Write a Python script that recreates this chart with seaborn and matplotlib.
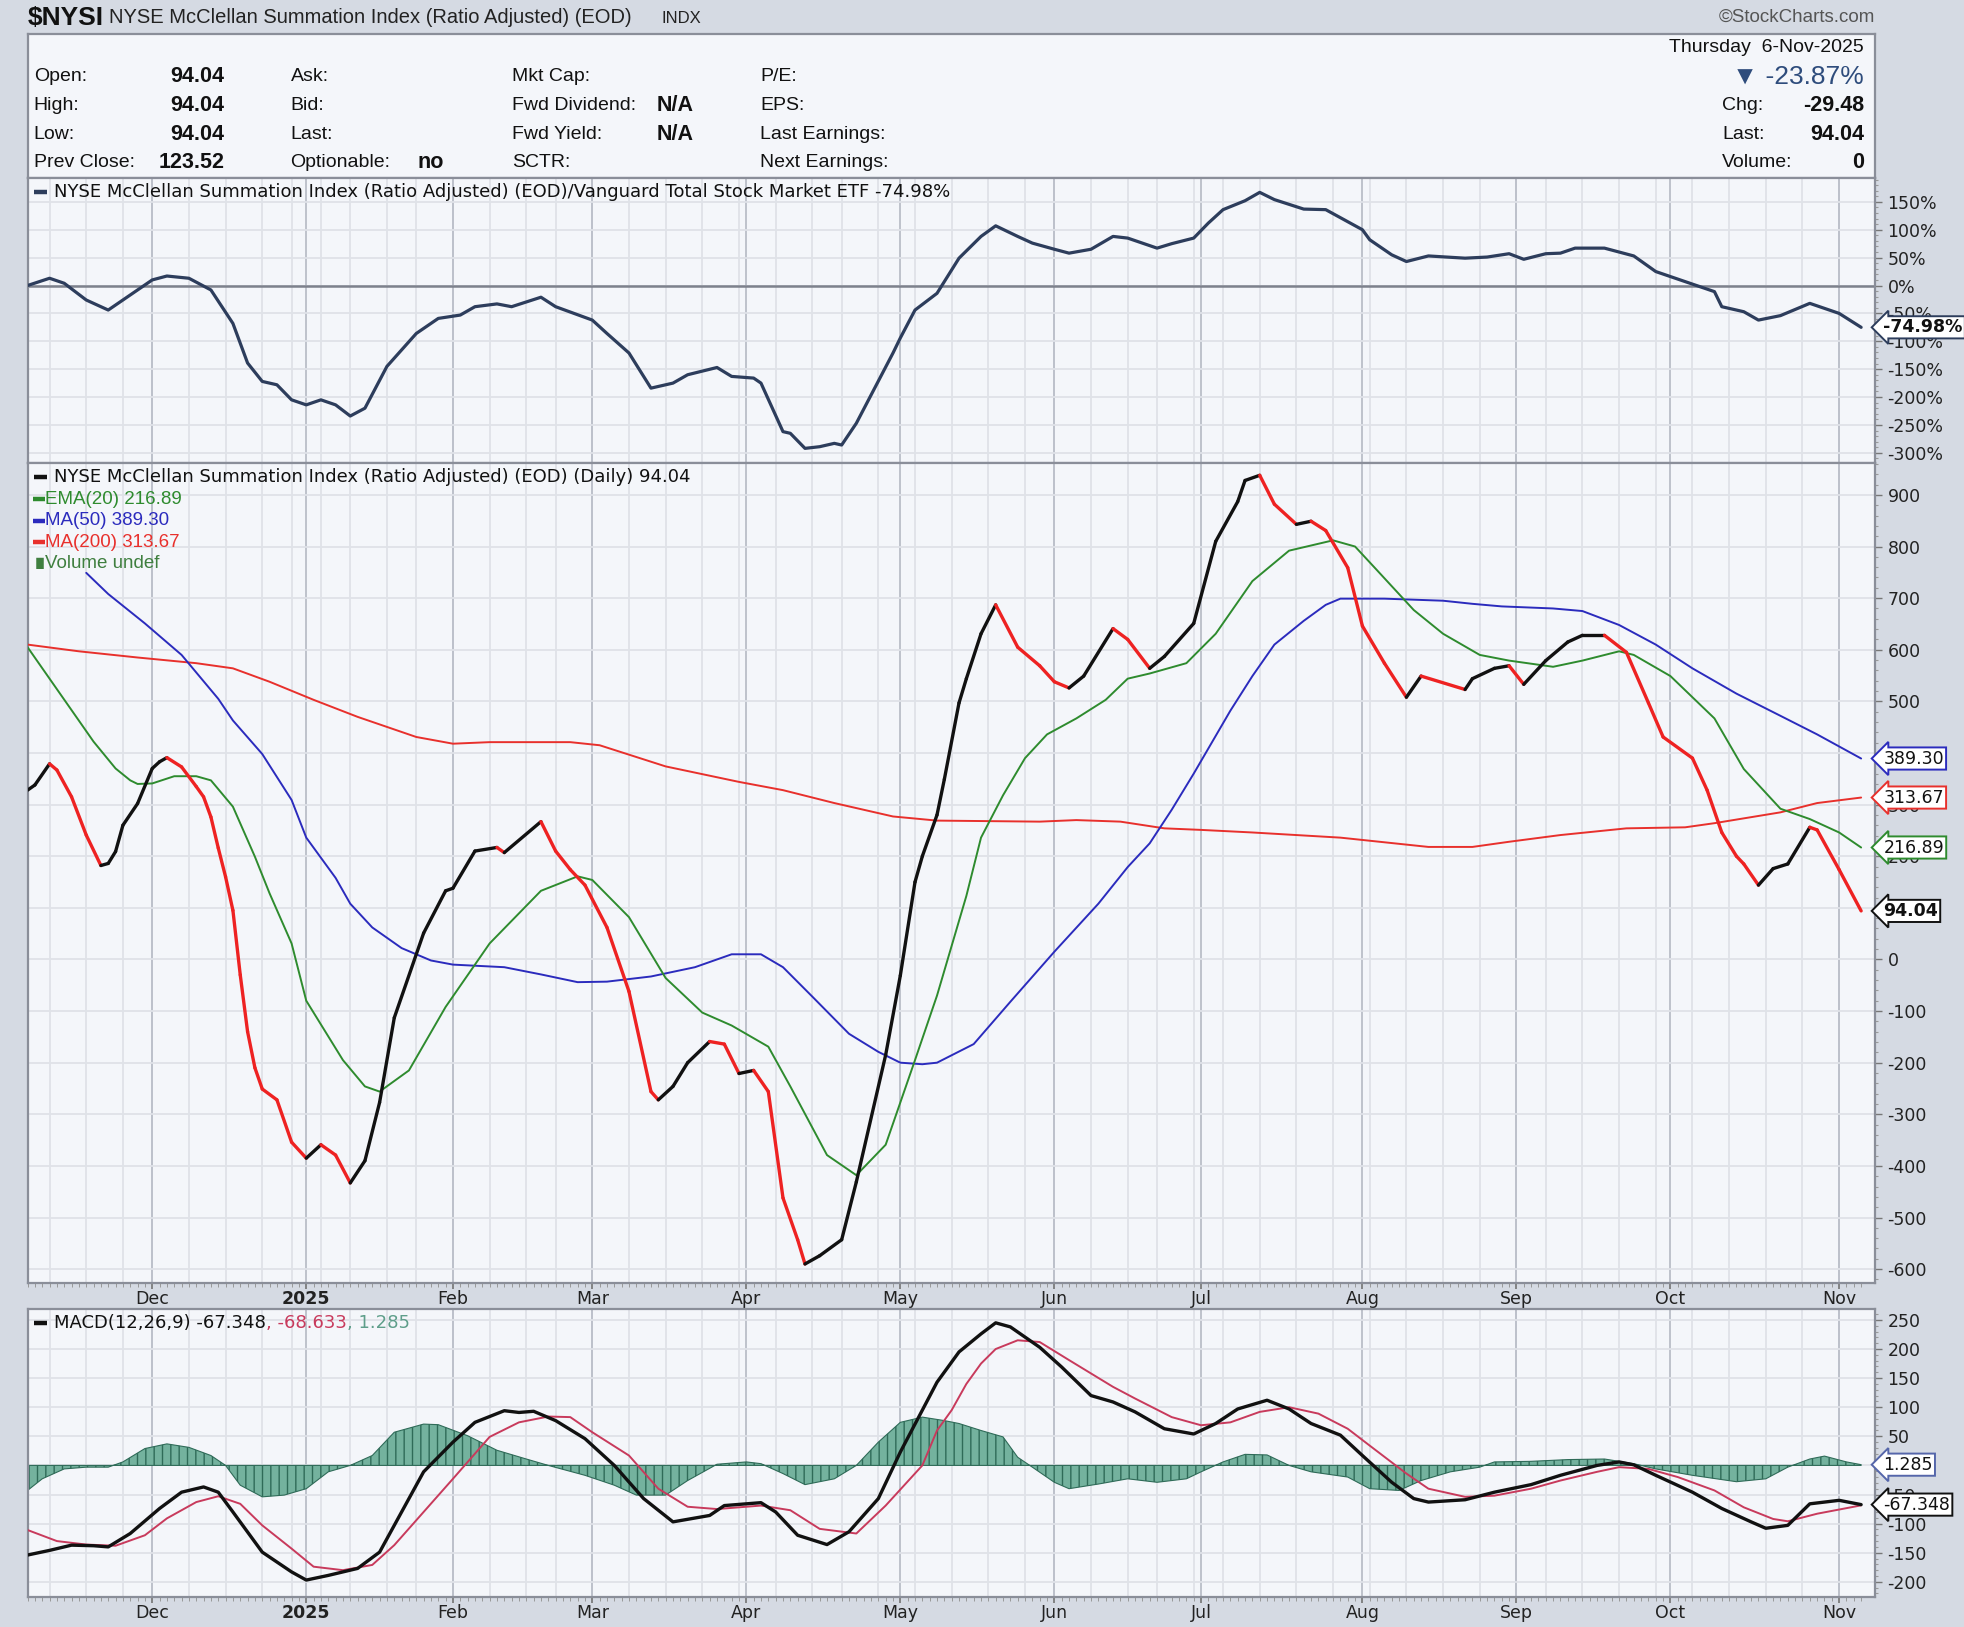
import numpy as np
import pandas as pd
import matplotlib.pyplot as plt
import seaborn as sns
from matplotlib.collections import LineCollection
import matplotlib.ticker as mticker

sns.set_theme(style="white")
plt.rcParams['font.family'] = ['DejaVu Sans']
plt.rcParams['hatch.linewidth'] = 1.0
NARROW = ['Liberation Sans Narrow', 'Liberation Sans', 'DejaVu Sans']

# NYSE trading calendar for the chart window
holidays = ['2024-11-28', '2024-12-25', '2025-01-01', '2025-01-09', '2025-01-20', '2025-02-17',
            '2025-04-18', '2025-05-26', '2025-06-19', '2025-07-04', '2025-09-01']
month_labels = ['Dec', '2025', 'Feb', 'Mar', 'Apr', 'May', 'Jun', 'Jul', 'Aug', 'Sep', 'Oct', 'Nov']

# --- $NYSI (daily) ---
nysi_dates = ['2024-11-06', '2024-11-07', '2024-11-11', '2024-11-12', '2024-11-14', '2024-11-18', '2024-11-20',
              '2024-11-21', '2024-11-22', '2024-11-25', '2024-11-27',
              '2024-12-02', '2024-12-03', '2024-12-04', '2024-12-06', '2024-12-10', '2024-12-11', '2024-12-12', '2024-12-13',
              '2024-12-16', '2024-12-17', '2024-12-18', '2024-12-19', '2024-12-20', '2024-12-23', '2024-12-26', '2024-12-30',
              '2025-01-02', '2025-01-06', '2025-01-08', '2025-01-13', '2025-01-15', '2025-01-17', '2025-01-22', '2025-01-28', '2025-01-31',
              '2025-02-03', '2025-02-06', '2025-02-11', '2025-02-12', '2025-02-20', '2025-02-24', '2025-02-26', '2025-02-28',
              '2025-03-05', '2025-03-10', '2025-03-13', '2025-03-14', '2025-03-18', '2025-03-20', '2025-03-25', '2025-03-27', '2025-03-31',
              '2025-04-02', '2025-04-04', '2025-04-08', '2025-04-10', '2025-04-11', '2025-04-15', '2025-04-21', '2025-04-23', '2025-04-29',
              '2025-05-01', '2025-05-05', '2025-05-06', '2025-05-08', '2025-05-09', '2025-05-13', '2025-05-14', '2025-05-16', '2025-05-20', '2025-05-23', '2025-05-29',
              '2025-06-02', '2025-06-04', '2025-06-06', '2025-06-12', '2025-06-16', '2025-06-20', '2025-06-24', '2025-06-30',
              '2025-07-03', '2025-07-09', '2025-07-10', '2025-07-14', '2025-07-16', '2025-07-21', '2025-07-23', '2025-07-25', '2025-07-30',
              '2025-08-01', '2025-08-06', '2025-08-11', '2025-08-13', '2025-08-21', '2025-08-22', '2025-08-27', '2025-08-29',
              '2025-09-03', '2025-09-08', '2025-09-11', '2025-09-15', '2025-09-18', '2025-09-23', '2025-09-26', '2025-09-30',
              '2025-10-06', '2025-10-08', '2025-10-10', '2025-10-14', '2025-10-15', '2025-10-17', '2025-10-21', '2025-10-23', '2025-10-28', '2025-10-29',
              '2025-11-03', '2025-11-06']
nysi = [328, 338, 379, 367, 315, 241, 182,
        186, 209, 260, 302,
        370, 383, 391, 373, 335, 315, 276, 216,
        160, 95, -30, -140, -210, -251, -272, -354,
        -385, -359, -379, -433, -390, -277, -113, 51, 133,
        138, 210, 217, 207, 267, 210, 174, 144,
        62, -62, -256, -272, -246, -200, -159, -164, -221,
        -215, -256, -462, -543, -590, -574, -543, -431, -185,
        -31, 150, 200, 280, 349, 497, 544, 631, 687, 605, 569,
        538, 526, 549, 641, 620, 564, 587, 651,
        810, 887, 928, 938, 882, 843, 849, 831, 759,
        646, 574, 508, 549, 523, 544, 564, 569,
        533, 579, 615, 628, 628, 595, 497, 431,
        390, 328, 246, 200, 185, 144, 176, 185, 256, 251,
        174, 94.04]

ema_dates = ['2024-11-06', '2024-11-11', '2024-11-14', '2024-11-19', '2024-11-22', '2024-11-26', '2024-11-27',
             '2024-12-02', '2024-12-05', '2024-12-10', '2024-12-12', '2024-12-17', '2024-12-20', '2024-12-24', '2024-12-30',
             '2025-01-02', '2025-01-10', '2025-01-15', '2025-01-17', '2025-01-24', '2025-01-31',
             '2025-02-10', '2025-02-20', '2025-02-27',
             '2025-03-03', '2025-03-10', '2025-03-17', '2025-03-24', '2025-03-28',
             '2025-04-04', '2025-04-09', '2025-04-16', '2025-04-23', '2025-04-29',
             '2025-05-05', '2025-05-08', '2025-05-14', '2025-05-16', '2025-05-21', '2025-05-27', '2025-05-30',
             '2025-06-05', '2025-06-11', '2025-06-16', '2025-06-20', '2025-06-27',
             '2025-07-03', '2025-07-11', '2025-07-18', '2025-07-28', '2025-07-31',
             '2025-08-05', '2025-08-12', '2025-08-18', '2025-08-25', '2025-08-29',
             '2025-09-09', '2025-09-15', '2025-09-22', '2025-09-24',
             '2025-10-01', '2025-10-09', '2025-10-15', '2025-10-22', '2025-10-28',
             '2025-11-03', '2025-11-06']
ema20 = [605, 544, 483, 422, 370, 347, 340,
         341, 355, 355, 347, 296, 199, 128, 31,
         -80, -195, -246, -256, -215, -92,
         31, 133, 161,
         154, 82, -36, -103, -128,
         -169, -246, -379, -418, -359,
         -195, -70, 123, 236, 318, 390, 436,
         467, 503, 544, 554, 574,
         631, 733, 792, 812, 800,
         754, 677, 631, 590, 579,
         567, 579, 597, 590,
         549, 467, 369, 292, 272,
         246, 216.89]

ma50_dates = ['2024-11-18', '2024-11-21', '2024-11-29',
              '2024-12-06', '2024-12-13', '2024-12-17', '2024-12-23', '2024-12-30',
              '2025-01-02', '2025-01-08', '2025-01-13', '2025-01-16', '2025-01-23', '2025-01-29',
              '2025-02-03', '2025-02-12', '2025-02-20', '2025-02-27',
              '2025-03-05', '2025-03-13', '2025-03-21', '2025-03-28',
              '2025-04-03', '2025-04-08', '2025-04-14', '2025-04-22', '2025-04-28',
              '2025-05-01', '2025-05-06', '2025-05-08', '2025-05-15', '2025-05-22',
              '2025-06-02', '2025-06-10', '2025-06-16', '2025-06-20', '2025-06-25', '2025-06-30',
              '2025-07-08', '2025-07-11', '2025-07-16', '2025-07-22', '2025-07-25', '2025-07-29',
              '2025-08-06', '2025-08-18', '2025-08-22', '2025-08-28',
              '2025-09-09', '2025-09-15', '2025-09-22', '2025-09-29',
              '2025-10-06', '2025-10-14', '2025-10-22', '2025-10-29',
              '2025-11-06']
ma50 = [749, 708, 651,
        590, 505, 463, 398, 309,
        236, 158, 108, 62, 22, -2,
        -10, -15, -29, -44,
        -43, -33, -15, 10,
        10, -15, -72, -144, -179,
        -200, -203, -200, -164, -82,
        15, 108, 179, 225, 290, 360,
        482, 549, 610, 656, 687, 699,
        699, 695, 689, 684,
        680, 675, 648, 610,
        564, 515, 472, 436,
        389.30]

ma200_dates = ['2024-11-06', '2024-11-15', '2024-11-27', '2024-12-10', '2024-12-17', '2024-12-24',
               '2025-01-03', '2025-01-14', '2025-01-27', '2025-02-03', '2025-02-10', '2025-02-26',
               '2025-03-04', '2025-03-17', '2025-03-31', '2025-04-08', '2025-04-17', '2025-04-30',
               '2025-05-08', '2025-05-29', '2025-06-05', '2025-06-13', '2025-06-24',
               '2025-07-01', '2025-07-11', '2025-07-29', '2025-08-14', '2025-08-22', '2025-08-29',
               '2025-09-10', '2025-09-23', '2025-10-03', '2025-10-09', '2025-10-22', '2025-10-29',
               '2025-11-06']
ma200 = [610, 597, 585, 574, 564, 538,
         503, 470, 431, 418, 421, 421,
         415, 374, 344, 328, 303, 277,
         269, 267, 270, 267, 254,
         251, 246, 236, 218, 218, 228,
         241, 254, 256, 264, 285, 303,
         313.67]

# --- $NYSI : VTI relative strength (%) ---
rs_dates = ['2024-11-06', '2024-11-11', '2024-11-13', '2024-11-18', '2024-11-21', '2024-11-26',
            '2024-12-02', '2024-12-04', '2024-12-09', '2024-12-12', '2024-12-17', '2024-12-19', '2024-12-23', '2024-12-26', '2024-12-30',
            '2025-01-02', '2025-01-06', '2025-01-08', '2025-01-13', '2025-01-15', '2025-01-21', '2025-01-27', '2025-01-30',
            '2025-02-04', '2025-02-06', '2025-02-11', '2025-02-13', '2025-02-20', '2025-02-24',
            '2025-03-03', '2025-03-05', '2025-03-10', '2025-03-13', '2025-03-18', '2025-03-20', '2025-03-26', '2025-03-28',
            '2025-04-02', '2025-04-03', '2025-04-08', '2025-04-09', '2025-04-11', '2025-04-15', '2025-04-17', '2025-04-21', '2025-04-23', '2025-04-30',
            '2025-05-01', '2025-05-05', '2025-05-08', '2025-05-13', '2025-05-16', '2025-05-20', '2025-05-23', '2025-05-28',
            '2025-06-02', '2025-06-04', '2025-06-09', '2025-06-12', '2025-06-16', '2025-06-23', '2025-06-25', '2025-06-30',
            '2025-07-02', '2025-07-07', '2025-07-10', '2025-07-14', '2025-07-16', '2025-07-22', '2025-07-25',
            '2025-08-01', '2025-08-04', '2025-08-07', '2025-08-11', '2025-08-14', '2025-08-21', '2025-08-26', '2025-08-29',
            '2025-09-03', '2025-09-08', '2025-09-10', '2025-09-12', '2025-09-18', '2025-09-24', '2025-09-29',
            '2025-10-03', '2025-10-09', '2025-10-10', '2025-10-15', '2025-10-17', '2025-10-22', '2025-10-28',
            '2025-11-03', '2025-11-06']
rs_pct = [0, 13, 4, -26, -44, -17,
          10, 17, 13, -8, -68, -139, -172, -178, -205,
          -214, -205, -214, -234, -220, -145, -86, -59,
          -53, -38, -33, -38, -21, -38,
          -62, -86, -121, -184, -175, -160, -147, -163,
          -166, -175, -262, -265, -292, -289, -283, -286, -247, -121,
          -94, -44, -14, 49, 88, 107, 88, 76,
          65, 58, 65, 88, 85, 67, 75, 85,
          112, 136, 152, 167, 154, 137, 136,
          100, 82, 55, 43, 53, 49, 51, 57,
          47, 57, 58, 67, 67, 53, 25,
          7, -11, -38, -47, -62, -54, -32,
          -50, -74.98]

# --- MACD(12,26,9) ---
macd_dates = ['2024-11-06', '2024-11-11', '2024-11-14', '2024-11-19', '2024-11-21', '2024-11-26',
              '2024-12-03', '2024-12-06', '2024-12-11', '2024-12-13', '2024-12-17', '2024-12-23', '2024-12-30',
              '2025-01-02', '2025-01-07', '2025-01-14', '2025-01-17', '2025-01-23', '2025-01-28',
              '2025-02-03', '2025-02-06', '2025-02-12', '2025-02-14', '2025-02-19', '2025-02-24', '2025-02-28',
              '2025-03-06', '2025-03-12', '2025-03-18', '2025-03-25', '2025-03-27',
              '2025-04-03', '2025-04-07', '2025-04-10', '2025-04-16', '2025-04-22', '2025-04-28',
              '2025-05-01', '2025-05-08', '2025-05-13', '2025-05-16', '2025-05-20', '2025-05-22', '2025-05-29',
              '2025-06-03', '2025-06-09', '2025-06-12', '2025-06-17', '2025-06-24', '2025-06-30',
              '2025-07-03', '2025-07-09', '2025-07-15', '2025-07-18', '2025-07-23', '2025-07-29',
              '2025-08-01', '2025-08-07', '2025-08-12', '2025-08-14', '2025-08-21', '2025-08-27',
              '2025-09-04', '2025-09-10', '2025-09-17', '2025-09-22', '2025-09-24', '2025-09-29',
              '2025-10-06', '2025-10-10', '2025-10-16', '2025-10-20', '2025-10-23', '2025-10-28',
              '2025-11-03', '2025-11-06']
macd = [-154, -146, -137, -138, -140, -117,
        -74, -46, -37, -46, -80, -149, -183,
        -197, -189, -177, -149, -80, -11,
        40, 74, 94, 91, 93, 77, 46,
        0, -57, -97, -86, -69,
        -64, -80, -120, -136, -114, -57,
        23, 143, 195, 226, 245, 238, 203,
        169, 120, 109, 92, 63, 54,
        72, 97, 112, 97, 72, 52,
        17, -29, -57, -63, -59, -46,
        -33, -17, 0, 6, 1, -17,
        -46, -74, -97, -108, -103, -66,
        -60, -67.348]

signal_dates = ['2024-11-06', '2024-11-12', '2024-11-18', '2024-11-22', '2024-11-29',
                '2024-12-04', '2024-12-10', '2024-12-13', '2024-12-18', '2024-12-23', '2024-12-30',
                '2025-01-03', '2025-01-10', '2025-01-16', '2025-01-22', '2025-01-28',
                '2025-02-03', '2025-02-10', '2025-02-14', '2025-02-21', '2025-02-26',
                '2025-03-03', '2025-03-10', '2025-03-14', '2025-03-20', '2025-03-26',
                '2025-04-03', '2025-04-09', '2025-04-15', '2025-04-23', '2025-04-29',
                '2025-05-06', '2025-05-08', '2025-05-12', '2025-05-14', '2025-05-16', '2025-05-20', '2025-05-23', '2025-05-29',
                '2025-06-04', '2025-06-12', '2025-06-17', '2025-06-25',
                '2025-07-01', '2025-07-08', '2025-07-14', '2025-07-18', '2025-07-24', '2025-07-30',
                '2025-08-04', '2025-08-11', '2025-08-14', '2025-08-21', '2025-08-27',
                '2025-09-04', '2025-09-10', '2025-09-17', '2025-09-22', '2025-09-26',
                '2025-10-02', '2025-10-09', '2025-10-15', '2025-10-21', '2025-10-23', '2025-10-29',
                '2025-11-06']
signal = [-111, -130, -136, -138, -120,
          -91, -63, -53, -66, -103, -143,
          -174, -180, -171, -137, -80,
          -23, 49, 74, 84, 83,
          57, 17, -40, -71, -75,
          -69, -77, -109, -117, -69,
          0, 60, 95, 140, 175, 200, 215, 212,
          181, 135, 115, 83,
          69, 74, 92, 100, 89, 63,
          34, -14, -40, -54, -52,
          -40, -26, -11, -3, -6,
          -20, -43, -72, -92, -96, -83,
          -68.633]

hist_dates = ['2024-11-06', '2024-11-08', '2024-11-13', '2024-11-18', '2024-11-21', '2024-11-25', '2024-11-29',
              '2024-12-04', '2024-12-09', '2024-12-12', '2024-12-16', '2024-12-18', '2024-12-23', '2024-12-27',
              '2025-01-02', '2025-01-07', '2025-01-13', '2025-01-16', '2025-01-22', '2025-01-28', '2025-01-30',
              '2025-02-05', '2025-02-11', '2025-02-18', '2025-02-21', '2025-02-28',
              '2025-03-06', '2025-03-11', '2025-03-17', '2025-03-20', '2025-03-26',
              '2025-04-01', '2025-04-03', '2025-04-08', '2025-04-11', '2025-04-17', '2025-04-23', '2025-04-28',
              '2025-05-01', '2025-05-06', '2025-05-09', '2025-05-13', '2025-05-16', '2025-05-21', '2025-05-23', '2025-05-28',
              '2025-06-02', '2025-06-04', '2025-06-10', '2025-06-16', '2025-06-23', '2025-06-27',
              '2025-07-01', '2025-07-07', '2025-07-10', '2025-07-15', '2025-07-18', '2025-07-23', '2025-07-30',
              '2025-08-04', '2025-08-08', '2025-08-13', '2025-08-19', '2025-08-25', '2025-08-27',
              '2025-09-04', '2025-09-11', '2025-09-18', '2025-09-24', '2025-09-29',
              '2025-10-06', '2025-10-14', '2025-10-20', '2025-10-23', '2025-10-28', '2025-10-30',
              '2025-11-04', '2025-11-06']
hist = [-43, -23, -6, -3, -3, 6, 29,
        37, 31, 17, 0, -34, -54, -51,
        -40, -11, 0, 17, 57, 71, 70,
        51, 26, 11, 0, -17,
        -34, -51, -51, -26, 2,
        6, 3, -14, -33, -23, 0, 40,
        74, 83, 77, 72, 60, 49, 14, -3,
        -29, -40, -32, -23, -29, -23,
        -11, 6, 19, 18, 0, -11, -20,
        -40, -43, -26, -11, -3, 6,
        7, 10, 11, 3, -6,
        -17, -28, -23, -3, 11, 16,
        6, 1.285]

# colours
BG = '#d5dae3'
PANEL = '#f4f6fa'
SPINE = '#8a8e99'
GRID = '#dfe2e8'
GRID_M = '#babec8'

days = pd.bdate_range('2024-11-06', '2025-11-06')
days = days[~days.isin(pd.to_datetime(holidays))]
pos = pd.Series(np.arange(len(days)), index=days)


def xs(dates):
    return pos[pd.to_datetime(dates)].values.astype(float)


s = days.to_series()
month_pos = xs(s.groupby(days.to_period('M')).min().values[1:])
week_pos = xs(s.groupby(days.to_period('W')).min().values)
XLIM = (0.27, 251.9)

W, H = 1568, 1299


def box(x0, y0, x1, y1):
    return [x0 / W, 1 - y1 / H, (x1 - x0) / W, (y1 - y0) / H]


def fx(x):
    return x / W


def fy(y):
    return 1 - y / H


fig = plt.figure(figsize=(19.64, 16.27), dpi=100, facecolor=BG)
ax_h = fig.add_axes(box(22, 27, 1497, 142))
ax_rs = fig.add_axes(box(22, 142, 1497, 370))
ax_m = fig.add_axes(box(22, 370, 1497, 1024))
ax_d = fig.add_axes(box(22, 1045, 1497, 1275))


def style_panel(ax, ylim, step, fmt, show_x):
    ax.set_facecolor(PANEL)
    for sp in ax.spines.values():
        sp.set_color(SPINE)
        sp.set_linewidth(1.6)
    ax.set_xlim(*XLIM)
    ax.set_ylim(*ylim)
    for w in week_pos:
        ax.axvline(w, color=GRID, lw=1.3, zorder=0)
    for m in month_pos:
        ax.axvline(m, color=GRID_M, lw=1.3, zorder=0)
    ticks = np.arange(np.ceil(ylim[0] / step) * step, ylim[1], step)
    for t in ticks:
        ax.axhline(t, color=GRID, lw=1.3, zorder=0)
    ax.yaxis.tick_right()
    ax.set_yticks(ticks)
    ax.yaxis.set_major_formatter(mticker.FuncFormatter(fmt))
    ax.yaxis.set_minor_locator(mticker.AutoMinorLocator(5))
    ax.tick_params(axis='y', which='major', length=5, width=1, color='#777', labelsize=12.5,
                   labelcolor='#222', pad=4, right=True, left=False)
    ax.tick_params(axis='y', which='minor', length=2, width=0.8, color='#999', right=True, left=False)
    ax.set_xticks(month_pos)
    ax.set_xticks(np.arange(len(days)), minor=True)
    if show_x:
        ax.set_xticklabels(month_labels)
        for lab in ax.get_xticklabels():
            if lab.get_text() == '2025':
                lab.set_fontweight('bold')
        ax.tick_params(axis='x', which='major', length=4, color='#777', labelsize=12.5,
                       labelcolor='#222', pad=1, bottom=True)
        ax.tick_params(axis='x', which='minor', length=3, width=0.7, color='#999', bottom=True)
    else:
        ax.set_xticklabels([])
        ax.tick_params(axis='x', which='both', length=0)
    ax.set_xlabel('')
    ax.set_ylabel('')


def tag(ax, y, text, edge, color='#111', bold=False):
    ax.text(1.0045, y, text, transform=ax.get_yaxis_transform(), ha='left', va='center',
            fontsize=12.5, color=color, fontweight='bold' if bold else 'normal', clip_on=False, zorder=20,
            bbox=dict(boxstyle='larrow,pad=0.12', fc='white', ec=edge, lw=1.4))


def legend_mark(ax, y, color, x0=0.0035, x1=0.0105):
    ax.plot([x0, x1], [y, y], transform=ax.transAxes, color=color, lw=3.2,
            solid_capstyle='butt', clip_on=False, zorder=20)


# ---- header panel ----
ax_h.set_facecolor(PANEL)
ax_h.set_xticks([])
ax_h.set_yticks([])
for sp in ax_h.spines.values():
    sp.set_color(SPINE)
    sp.set_linewidth(1.6)

fig.text(fx(22), fy(14), '$NYSI', fontsize=19, fontweight='bold', family=NARROW, va='center', color='#111')
fig.text(fx(87), fy(14), 'NYSE McClellan Summation Index (Ratio Adjusted) (EOD)', fontsize=14.5,
         family=NARROW, va='center', color='#222')
fig.text(fx(528), fy(15), 'INDX', fontsize=12, family=NARROW, va='center', color='#222')
fig.text(fx(1497), fy(14), '\u00a9StockCharts.com', fontsize=13.5, family=NARROW, va='center', ha='right', color='#555')

rows = [61, 84, 107, 130]
col_text = [
    (27, ['Open:', 'High:', 'Low:', 'Prev Close:']),
    (232, ['Ask:', 'Bid:', 'Last:', 'Optionable:']),
    (409, ['Mkt Cap:', 'Fwd Dividend:', 'Fwd Yield:', 'SCTR:']),
    (607, ['P/E:', 'EPS:', 'Last Earnings:', 'Next Earnings:']),
]
for x, labels in col_text:
    for y, lab in zip(rows, labels):
        fig.text(fx(x), fy(y), lab, fontsize=14, family=NARROW, va='center', color='#111')
for y, val in zip(rows, ['94.04', '94.04', '94.04', '123.52']):
    fig.text(fx(179), fy(y), val, fontsize=15.5, fontweight='bold', family=NARROW, va='center', ha='right', color='#111')
fig.text(fx(333), fy(130), 'no', fontsize=15.5, fontweight='bold', family=NARROW, va='center', color='#111')
for y in (84, 107):
    fig.text(fx(524), fy(y), 'N/A', fontsize=15.5, fontweight='bold', family=NARROW, va='center', color='#111')

fig.text(fx(1488), fy(38), 'Thursday  6-Nov-2025', fontsize=14, family=NARROW, va='center', ha='right', color='#111')
fig.text(fx(1488), fy(61), '\u25bc -23.87%', fontsize=19, family=NARROW, va='center', ha='right', color='#2e4c7c')
for y, lab, val in zip(rows[1:], ['Chg:', 'Last:', 'Volume:'], ['-29.48', '94.04', '0']):
    fig.text(fx(1375), fy(y), lab, fontsize=14, family=NARROW, va='center', color='#111')
    fig.text(fx(1488), fy(y), val, fontsize=15.5, fontweight='bold', family=NARROW, va='center', ha='right', color='#111')

# ---- relative strength panel ----
style_panel(ax_rs, (-319, 193), 50, lambda v, p: f'{v:.0f}%', False)
ax_rs.axhline(0, color='#7d818c', lw=1.8, zorder=1)
sns.lineplot(x=xs(rs_dates), y=rs_pct, ax=ax_rs, color='#2d3d5c', lw=2.3, estimator=None, sort=False, zorder=5)
legend_mark(ax_rs, 0.952, '#2d3d5c')
ax_rs.text(0.0145, 0.952, 'NYSE McClellan Summation Index (Ratio Adjusted) (EOD)/Vanguard Total Stock Market ETF -74.98%',
           transform=ax_rs.transAxes, fontsize=13, va='center', color='#111', zorder=20)
tag(ax_rs, rs_pct[-1], f'{rs_pct[-1]:.2f}%', '#2d3d5c', bold=True)

# ---- main price panel ----
style_panel(ax_m, (-626, 961), 100, lambda v, p: f'{v:.0f}', True)
sns.lineplot(x=xs(ma200_dates), y=ma200, ax=ax_m, color='#e8302c', lw=1.4, estimator=None, sort=False, zorder=3)
sns.lineplot(x=xs(ma50_dates), y=ma50, ax=ax_m, color='#2b2bbd', lw=1.4, estimator=None, sort=False, zorder=3)
sns.lineplot(x=xs(ema_dates), y=ema20, ax=ax_m, color='#2e8b2e', lw=1.4, estimator=None, sort=False, zorder=3)

# price line: black on up days, red on down days
nx = xs(nysi_dates)
ny = np.array(nysi, dtype=float)
segs = np.stack([np.column_stack([nx[:-1], ny[:-1]]), np.column_stack([nx[1:], ny[1:]])], axis=1)
seg_cols = ['#111111' if d >= 0 else '#ee2222' for d in np.diff(ny)]
ax_m.add_collection(LineCollection(segs, colors=seg_cols, linewidths=2.4, capstyle='round', joinstyle='round', zorder=6))

legend_mark(ax_m, 0.983, '#111')
ax_m.text(0.0145, 0.983, f'NYSE McClellan Summation Index (Ratio Adjusted) (EOD) (Daily) {nysi[-1]:.2f}',
          transform=ax_m.transAxes, fontsize=13, va='center', color='#111', zorder=20)
for y, col, txt in [(0.956, '#2e8b2e', f'EMA(20) {ema20[-1]:.2f}'),
                    (0.930, '#2b2bbd', f'MA(50) {ma50[-1]:.2f}'),
                    (0.904, '#e8302c', f'MA(200) {ma200[-1]:.2f}')]:
    legend_mark(ax_m, y, col, 0.0028, 0.0092)
    ax_m.text(0.0095, y, txt, transform=ax_m.transAxes, fontsize=13.5, family=NARROW, va='center',
              color=col, zorder=20)
ax_m.text(0.0025, 0.878, '\u2590\u258c', transform=ax_m.transAxes, fontsize=8, va='center', color='#3f7f3f', zorder=20)
ax_m.text(0.0095, 0.878, 'Volume undef', transform=ax_m.transAxes, fontsize=13.5, family=NARROW, va='center',
          color='#3f7f3f', zorder=20)

tag(ax_m, ma50[-1], f'{ma50[-1]:.2f}', '#2b2bbd', '#111')
tag(ax_m, ma200[-1], f'{ma200[-1]:.2f}', '#e8302c', '#111')
tag(ax_m, ema20[-1], f'{ema20[-1]:.2f}', '#2e8b2e', '#111')
tag(ax_m, nysi[-1], f'{nysi[-1]:.2f}', '#111', '#111', bold=True)

# ---- MACD panel ----
style_panel(ax_d, (-226, 269), 50, lambda v, p: f'{v:.0f}', True)
hx = xs(hist_dates)
ax_d.fill_between(hx, 0, hist, facecolor='#74b29e', edgecolor='#2f6b58', hatch='||', lw=0.8, zorder=2)
sns.lineplot(x=xs(signal_dates), y=signal, ax=ax_d, color='#c83a5c', lw=1.4, estimator=None, sort=False, zorder=4)
sns.lineplot(x=xs(macd_dates), y=macd, ax=ax_d, color='#111111', lw=2.4, estimator=None, sort=False, zorder=5)

legend_mark(ax_d, 0.952, '#111')
m1 = ax_d.text(0.0145, 0.952, f'MACD(12,26,9) {macd[-1]:.3f}', transform=ax_d.transAxes, fontsize=13,
               va='center', color='#111', zorder=20)
m2 = ax_d.annotate(f', {signal[-1]:.3f}', xy=(1, 0.5), xycoords=m1, va='center', fontsize=13, color='#c83a5c', zorder=20)
ax_d.annotate(f', {hist[-1]:.3f}', xy=(1, 0.5), xycoords=m2, va='center', fontsize=13, color='#5e9e8a', zorder=20)

tag(ax_d, hist[-1], f'{hist[-1]:.3f}', '#5566aa')
tag(ax_d, macd[-1], f'{macd[-1]:.3f}', '#111')

fig.savefig('out.png', dpi=100, facecolor=BG)
